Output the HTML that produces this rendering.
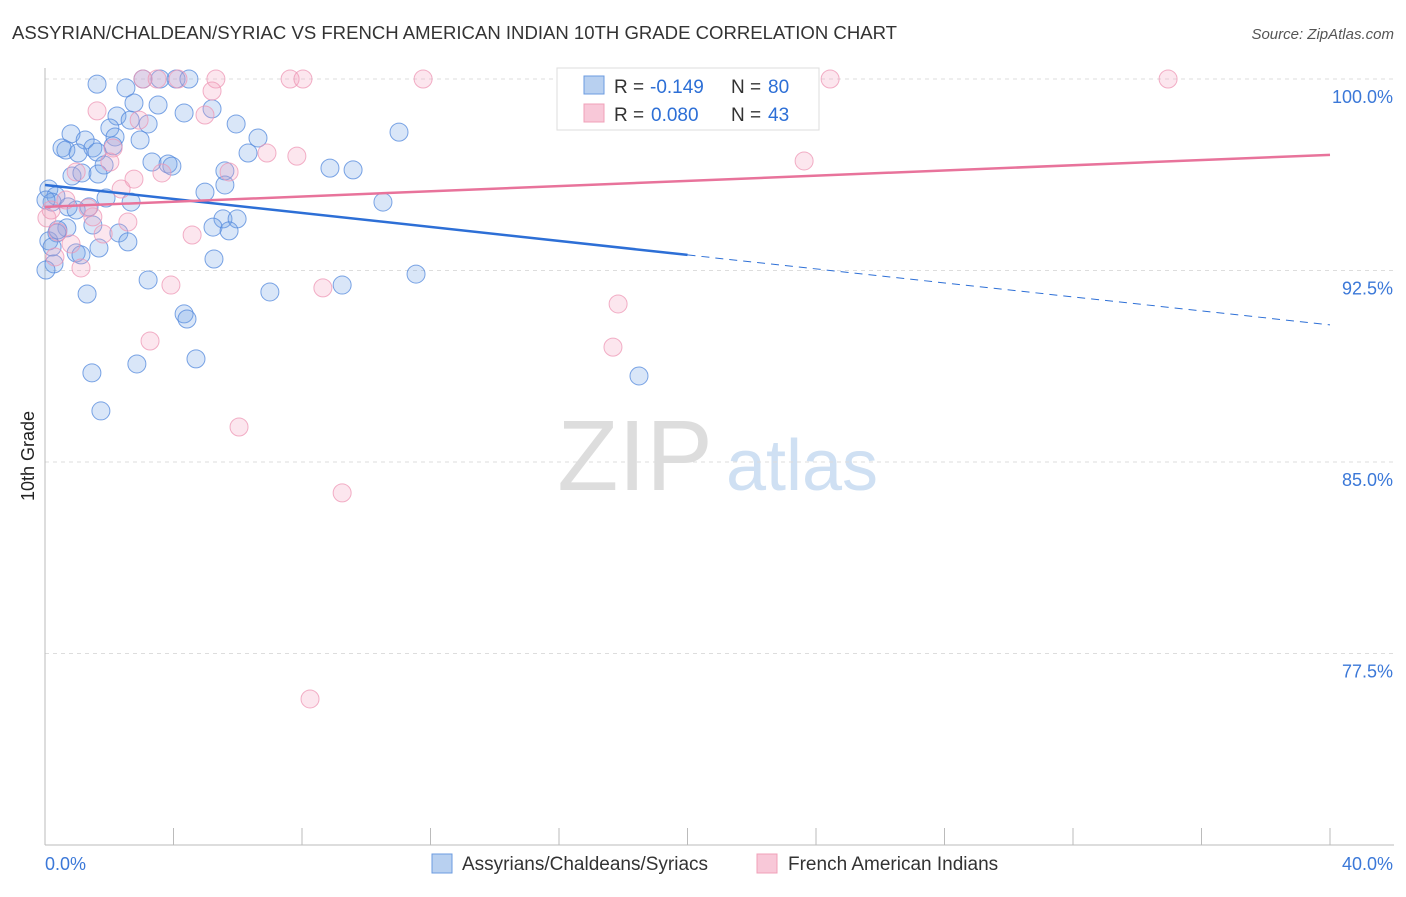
<!DOCTYPE html>
<html><head><meta charset="utf-8"><style>
body{margin:0;background:#fff;font-family:"Liberation Sans",sans-serif;}
svg text{font-family:"Liberation Sans",sans-serif;}
</style></head><body>
<svg id="c" width="1406" height="892">
<text x="12" y="39" font-size="18" fill="#333" textLength="885" lengthAdjust="spacingAndGlyphs">ASSYRIAN/CHALDEAN/SYRIAC VS FRENCH AMERICAN INDIAN 10TH GRADE CORRELATION CHART</text>
<text x="1394" y="39" font-size="15" fill="#555" font-style="italic" text-anchor="end">Source: ZipAtlas.com</text>
<text transform="translate(34,456) rotate(-90)" font-size="18" fill="#222" text-anchor="middle">10th Grade</text>
<g><text x="635" y="490" font-size="100" fill="#ddd" font-family="Liberation Serif" text-anchor="middle">ZIP</text><text x="802" y="490" font-size="72" fill="#cfe0f3" text-anchor="middle">atlas</text></g>
<g id="grid"></g><g id="pts"></g><g id="trend"></g>
<g>
<rect x="557" y="68" width="262" height="62" fill="#fff" stroke="#ddd"/>
<rect x="584" y="76" width="20" height="18" fill="#b8d0f0" stroke="#6b9be0"/>
<rect x="584" y="104" width="20" height="18" fill="#f8c8d8" stroke="#f0a0b8"/>
<text x="614" y="93" font-size="19" fill="#333">R =</text>
<text x="650" y="93" font-size="19" fill="#2d6fd6">-0.149</text>
<text x="731" y="93" font-size="19" fill="#333">N =</text>
<text x="768" y="93" font-size="19" fill="#2d6fd6">80</text>
<text x="614" y="121" font-size="19" fill="#333">R =</text>
<text x="651" y="121" font-size="19" fill="#2d6fd6">0.080</text>
<text x="731" y="121" font-size="19" fill="#333">N =</text>
<text x="768" y="121" font-size="19" fill="#2d6fd6">43</text>
</g>
<g>
<rect x="432" y="854" width="20" height="19" fill="#b8d0f0" stroke="#6b9be0"/>
<text x="462" y="870" font-size="19" fill="#333">Assyrians/Chaldeans/Syriacs</text>
<rect x="757" y="854" width="20" height="19" fill="#f8c8d8" stroke="#f0a0b8"/>
<text x="788" y="870" font-size="19" fill="#333">French American Indians</text>
</g>
</svg>
<script>
const yTicks=[100,92.5,85,77.5];
const yTickLabels=["100.0%","92.5%","85.0%","77.5%"];
const xLabels=["0.0%","40.0%"];
const blueX=[1.62,2.52,3.05,4.08,4.48,2.77,3.52,4.33,5.20,2.24,3.21,2.65,2.02,5.95,0.81,1.25,2.18,6.63,11.02,0.53,0.65,1.49,1.62,1.03,2.12,6.32,3.33,3.83,3.95,1.84,0.84,1.15,1.65,5.60,8.87,9.59,5.60,4.98,0.12,0.34,0.22,1.90,2.68,0.72,1.37,0.97,10.52,5.54,5.98,5.23,5.73,1.49,2.30,0.68,0.37,0.12,2.58,1.68,0.97,1.12,0.28,0.03,5.26,3.21,9.25,11.55,1.31,7.00,4.33,4.42,4.70,2.86,1.46,18.49,1.74,0.40,2.96,0.03,0.22,3.58];
const blueY=[99.80,99.65,100,100,100,99.06,98.98,98.67,98.83,98.55,98.24,98.39,98.08,98.24,97.85,97.61,97.73,97.69,97.92,97.30,97.22,97.30,97.14,97.10,97.38,97.10,96.75,96.67,96.59,96.63,96.20,96.32,96.28,96.40,96.51,96.44,95.85,95.57,95.69,95.42,95.18,95.34,95.18,94.99,94.99,94.87,95.18,94.52,94.52,94.20,94.05,94.28,93.97,94.17,93.97,93.66,93.62,93.38,93.19,93.11,92.76,92.52,92.95,92.13,91.93,92.36,91.58,91.66,90.80,90.60,89.04,88.84,88.49,88.37,87.00,94.09,97.61,95.26,93.42,100];
const pinkX=[3.05,3.49,4.14,5.32,7.63,8.03,11.77,24.44,34.96,5.20,1.62,4.98,2.93,2.12,6.91,7.84,2.02,0.97,3.64,5.73,2.77,2.37,0.65,1.49,2.58,0.40,1.81,4.58,0.06,0.81,0.31,1.12,3.92,8.65,17.84,17.68,3.27,6.04,9.25,8.25,23.63,0.19,1.34];
const pinkY=[100,100,100,100,100,100,100,100,100,99.53,98.75,98.59,98.39,97.30,97.10,96.98,96.75,96.36,96.32,96.36,96.08,95.69,95.26,94.60,94.40,94.01,93.93,93.89,94.56,93.54,93.03,92.60,91.93,91.82,91.19,89.50,89.74,86.37,83.79,75.72,96.79,94.87,94.95];
const blueTrend=[95.85,90.37];
const pinkTrend=[94.99,97.03];
const NS="http://www.w3.org/2000/svg";
const X=v=>45+v/40*1285, Y=v=>79+(100-v)/7.5*191.5;
function mk(t,a,p){const e=document.createElementNS(NS,t);for(const k in a)e.setAttribute(k,a[k]);p.appendChild(e);return e;}
const g=document.getElementById('grid');
yTicks.forEach((t,i)=>{
 const l=mk('line',{x1:45,x2:1394,y1:Y(t),y2:Y(t),stroke:'#ddd','stroke-dasharray':'4,4'},g);
 
 
 const tx=mk('text',{x:1393,y:Y(t)+24,'font-size':18,fill:'#3b78d8','text-anchor':'end'},g);tx.textContent=yTickLabels[i];
 
 
});
mk('line',{x1:45,x2:45,y1:68,y2:845,stroke:'#bbb'},g);
mk('line',{x1:45,x2:1394,y1:845,y2:845,stroke:'#bbb'},g);
for(let i=0;i<=10;i++){mk('line',{x1:X(i*4),x2:X(i*4),y1:828,y2:845,stroke:'#bbb'},g);}
[[0,'start',45],[40,'end',1393]].forEach((d,i)=>{const t=mk('text',{x:d[2],y:870,'font-size':18,fill:'#3b78d8','text-anchor':d[1]},g);t.textContent=xLabels[i];
 
 });
const p=document.getElementById('pts');
blueX.forEach((x,i)=>{const c=mk('circle',{cx:X(x),cy:Y(blueY[i]),r:9,fill:'rgba(120,165,230,0.28)',stroke:'rgba(80,135,220,0.75)','stroke-width':1},p);
 
 });
pinkX.forEach((x,i)=>{const c=mk('circle',{cx:X(x),cy:Y(pinkY[i]),r:9,fill:'rgba(245,165,195,0.28)',stroke:'rgba(238,150,180,0.75)','stroke-width':1},p);
 
 });
const tr=document.getElementById('trend');
const bm=blueTrend[0]+(blueTrend[1]-blueTrend[0])*0.5;
let l=mk('line',{x1:X(0),y1:Y(blueTrend[0]),x2:X(20),y2:Y(bm),stroke:'#2d6fd6','stroke-width':2.5},tr);


l=mk('line',{x1:X(20),y1:Y(bm),x2:X(40),y2:Y(blueTrend[1]),stroke:'#2d6fd6','stroke-width':1,'stroke-dasharray':'8,6'},tr);


l=mk('line',{x1:X(0),y1:Y(pinkTrend[0]),x2:X(40),y2:Y(pinkTrend[1]),stroke:'#e8739b','stroke-width':2.5},tr);


</script>
</body></html>
